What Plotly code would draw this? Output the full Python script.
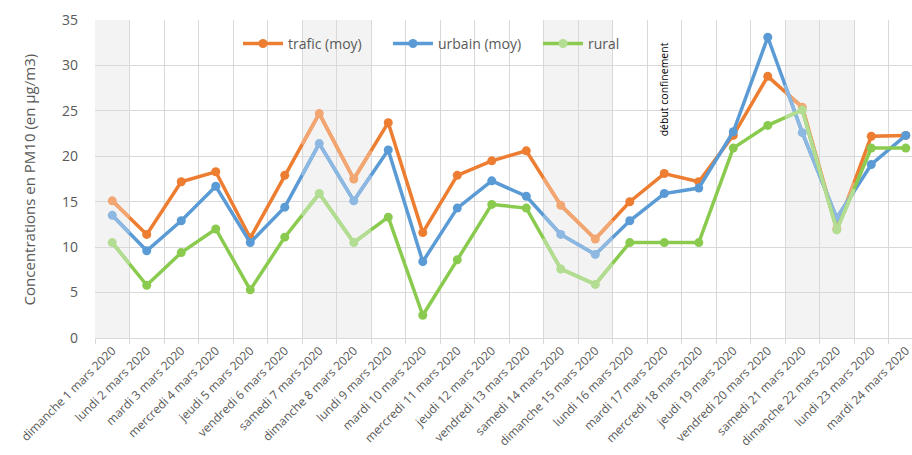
import plotly.graph_objects as go

# Daily PM10 concentrations, 1-24 March 2020
days = [
    "dimanche 1 mars 2020", "lundi 2 mars 2020", "mardi 3 mars 2020",
    "mercredi 4 mars 2020", "jeudi 5 mars 2020", "vendredi 6 mars 2020",
    "samedi 7 mars 2020", "dimanche 8 mars 2020", "lundi 9 mars 2020",
    "mardi 10 mars 2020", "mercredi 11 mars 2020", "jeudi 12 mars 2020",
    "vendredi 13 mars 2020", "samedi 14 mars 2020", "dimanche 15 mars 2020",
    "lundi 16 mars 2020", "mardi 17 mars 2020", "mercredi 18 mars 2020",
    "jeudi 19 mars 2020", "vendredi 20 mars 2020", "samedi 21 mars 2020",
    "dimanche 22 mars 2020", "lundi 23 mars 2020", "mardi 24 mars 2020",
]
trafic = [15.1, 11.4, 17.2, 18.3, 11.0, 17.9, 24.7, 17.5, 23.7, 11.6, 17.9, 19.5,
          20.6, 14.6, 10.9, 15.0, 18.1, 17.2, 22.3, 28.8, 25.4, 12.0, 22.2, 22.3]
urbain = [13.5, 9.6, 12.9, 16.7, 10.5, 14.4, 21.4, 15.1, 20.7, 8.4, 14.3, 17.3,
          15.6, 11.4, 9.2, 12.9, 15.9, 16.5, 22.7, 33.1, 22.6, 13.2, 19.1, 22.3]
rural = [10.5, 5.8, 9.4, 12.0, 5.3, 11.1, 15.9, 10.5, 13.3, 2.5, 8.6, 14.7,
         14.3, 7.6, 5.9, 10.5, 10.5, 10.5, 20.9, 23.4, 25.1, 11.9, 20.9, 20.9]
series_names = ["trafic (moy)", "urbain (moy)", "rural"]
confinement_day = "mardi 17 mars 2020"
confinement_label = "début confinement"

colors = ["#ED7D31", "#5B9BD5", "#8ACB4F"]
light_colors = ["#F2A672", "#8DB8E2", "#B3DD92"]
legend_marker_colors = ["#ED7D31", "#5B9BD5", "#B3DD92"]

x = list(range(len(days)))
weekend = [d.startswith("samedi") or d.startswith("dimanche") for d in days]

fig = go.Figure()

for name, vals, col, lcol, lgcol in zip(series_names, [trafic, urbain, rural],
                                        colors, light_colors, legend_marker_colors):
    point_colors = [lcol if w else col for w in weekend]
    fig.add_trace(go.Scatter(
        x=x, y=vals, mode="lines", showlegend=False,
        line=dict(color=col, width=3.5), hoverinfo="skip",
    ))
    # weekend days: lighter half-segments around each weekend point
    for i, w in enumerate(weekend):
        if not w:
            continue
        sx, sy = [], []
        if i > 0:
            sx.append(i - 0.5)
            sy.append((vals[i - 1] + vals[i]) / 2)
        sx.append(i)
        sy.append(vals[i])
        if i < len(vals) - 1:
            sx.append(i + 0.5)
            sy.append((vals[i] + vals[i + 1]) / 2)
        fig.add_trace(go.Scatter(
            x=sx, y=sy, mode="lines", line=dict(color=lcol, width=3.5),
            showlegend=False, hoverinfo="skip",
        ))
    fig.add_trace(go.Scatter(
        x=x, y=vals, mode="markers", showlegend=False, hoverinfo="skip",
        marker=dict(size=9, color=point_colors),
    ))
    # legend entry
    fig.add_trace(go.Scatter(
        x=[None], y=[None], name=name, mode="lines+markers",
        line=dict(color=col, width=3.5), marker=dict(size=9, color=lgcol),
        hoverinfo="skip",
    ))

# carrier trace for the boundary grid axis
fig.add_trace(go.Scatter(x=[None], y=[None], xaxis="x2", showlegend=False, hoverinfo="skip"))

# shaded weekend columns
for i, w in enumerate(weekend):
    if w:
        fig.add_shape(type="rect", xref="x", yref="y", x0=i - 0.5, x1=i + 0.5,
                      y0=0, y1=35, fillcolor="#F3F3F3", line_width=0, layer="below")

fig.add_annotation(
    x=days.index(confinement_day), y=27.4, xref="x", yref="y",
    text=confinement_label, textangle=-90, showarrow=False,
    font=dict(family="Open Sans", size=10.5, color="#000000"),
)

fig.add_annotation(
    x=-0.095, y=0.5, xref="paper", yref="paper",
    text="Concentrations en PM10 (en µg/m3)", textangle=-90, showarrow=False,
    font=dict(family="Open Sans", size=15, color="#595959"),
)

x_range = [-0.5, 23.18]
fig.update_layout(
    width=912, height=455,
    margin=dict(l=95, r=0, t=20, b=117, autoexpand=False),
    paper_bgcolor="white", plot_bgcolor="white",
    font=dict(family="Open Sans", color="#595959"),
    showlegend=True,
    legend=dict(
        orientation="h", x=0.175, y=0.925, xanchor="left", yanchor="middle",
        bgcolor="rgba(0,0,0,0)", font=dict(size=14, color="#595959"),
        itemwidth=40, entrywidth=95, entrywidthmode="pixels",
    ),
    xaxis=dict(
        range=x_range, tickmode="array", tickvals=x, ticktext=days,
        tickangle=-45, showgrid=False, zeroline=False,
        showline=True, linecolor="#D9D9D9", linewidth=1,
        tickfont=dict(size=12, color="#595959"), ticks="",
        ticklabeloverflow="allow", automargin=False,
    ),
    xaxis2=dict(
        range=x_range, overlaying="x", side="bottom", tickmode="array",
        tickvals=[i - 0.5 for i in range(len(days) + 1)],
        showticklabels=False, showgrid=True, gridcolor="#D9D9D9", gridwidth=1,
        ticks="outside", ticklen=5, tickcolor="#D9D9D9", zeroline=False,
    ),
    yaxis=dict(
        range=[0, 35], dtick=5, showgrid=True, gridcolor="#D9D9D9", gridwidth=1,
        zeroline=False, ticks="", ticklabelstandoff=16,
        tickfont=dict(size=14, color="#595959"),
    ),
)

fig.write_html("out.html")
